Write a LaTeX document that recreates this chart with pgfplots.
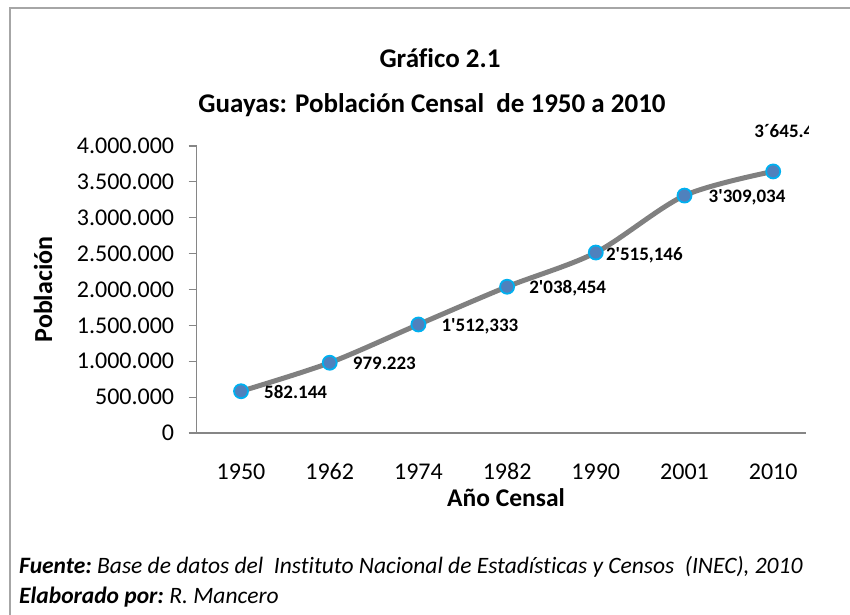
\documentclass[border=0pt]{standalone}
\usepackage{fontspec}
\setmainfont{Carlito}[Ligatures={TeX,NoCommon}]
\newfontfamily\lblfont{Carlito}[Ligatures=NoCommon]
\usepackage{pgfplots}
\pgfplotsset{compat=1.18}
\definecolor{linegray}{HTML}{808080}
\definecolor{axgray}{HTML}{868686}
\definecolor{framegray}{HTML}{A6A6A6}
\definecolor{mfill}{HTML}{4F81BD}
\definecolor{medge}{HTML}{00B0F0}
\begin{document}
\begin{tikzpicture}[x=1pt,y=1pt]
\useasboundingbox (0,0) rectangle (850,614);
\draw[framegray, line width=2pt] (10,-5) -- (10,606) -- (860,606);
\begin{axis}[
  at={(196.67pt,181pt)}, anchor=south west,
  scale only axis, width=609.33pt, height=287pt,
  xmin=0, xmax=6.87, ymin=0, ymax=4000000,
  axis lines=left, axis line style={axgray, line width=1.2pt, -},
  clip=false,
  xtick={0.5,1.5,2.5,3.5,4.5,5.5,6.5},
  xticklabels={1950,1962,1974,1982,1990,2001,2010},
  x tick style={draw=none},
  ytick={0,500000,1000000,1500000,2000000,2500000,3000000,3500000,4000000},
  y tick style={axgray, line width=1.2pt},
  tick align=outside, major tick length=8pt,
  scaled y ticks=false,
  /pgf/number format/.cd, fixed, precision=0, 1000 sep={.}, assume math mode=true,
  /pgfplots/.cd,
  tick label style={font=\fontsize{24}{28}\selectfont},
  yticklabel style={xshift=-11pt},
  xticklabel style={yshift=-19pt},
  xlabel={Año Censal},
  xlabel style={font=\fontsize{25.5}{30}\selectfont\bfseries, at={(axis description cs:0.5077,-0.2578)}, anchor=base},
  ylabel={Población},
  ylabel style={font=\fontsize{26}{30}\selectfont\bfseries, at={(axis description cs:-0.2374,0.5)}, anchor=base, rotate=0},
]
\addplot[linegray, line width=5pt, smooth, tension=0.5,
  mark=*, mark size=7pt, mark options={fill=mfill, draw=medge, line width=1.8pt}]
  coordinates {
  (0.5,582144) (1.5,979223) (2.5,1512333) (3.5,2038454)
  (4.5,2515146) (5.5,3309034) (6.5,3645483)
  };
\begin{scope}[every node/.style={font=\lblfont\fontsize{19}{22}\selectfont\bfseries, anchor=west, inner sep=0pt}]
\node[yshift=-1pt] at (axis cs:0.5,582144) [xshift=23pt] {582.144};
\node[yshift=-1pt] at (axis cs:1.5,979223) [xshift=23pt] {979.223};
\node[yshift=-2pt] at (axis cs:2.5,1512333) [xshift=23pt] {1'512,333};
\node[yshift=-1pt] at (axis cs:3.5,2038454) [xshift=22pt] {2'038,454};
\node[yshift=-2.5pt] at (axis cs:4.5,2515146) [xshift=10pt] {2'515,146};
\node[yshift=-2pt] at (axis cs:5.5,3309034) [xshift=24pt] {3'309,034};
\clip (axis cs:5.8,3500000) rectangle (axis cs:6.895,4400000);
\node at (axis cs:6.5,3645483) [xshift=-19pt, yshift=40pt] {3´645.483};
\end{scope}
\end{axis}
\node[font=\fontsize{27}{34}\selectfont\bfseries, anchor=base] at (440,546) {Gráfico 2.1};
\node[font=\fontsize{27}{34}\selectfont\bfseries, anchor=base] at (432,501) {Guayas: Población Censal\ \ de 1950 a 2010};
\node[font=\fontsize{23.5}{27}\selectfont\itshape, anchor=base west, inner sep=0pt] at (19,41) {\textbf{Fuente:}~Base de datos del\ \ Instituto Nacional de Estadísticas y Censos\ \ (INEC), 2010};
\node[font=\fontsize{23.5}{27}\selectfont\itshape, anchor=base west, inner sep=0pt] at (19,11) {\textbf{Elaborado por:}~R. Mancero};
\end{tikzpicture}
\end{document}
